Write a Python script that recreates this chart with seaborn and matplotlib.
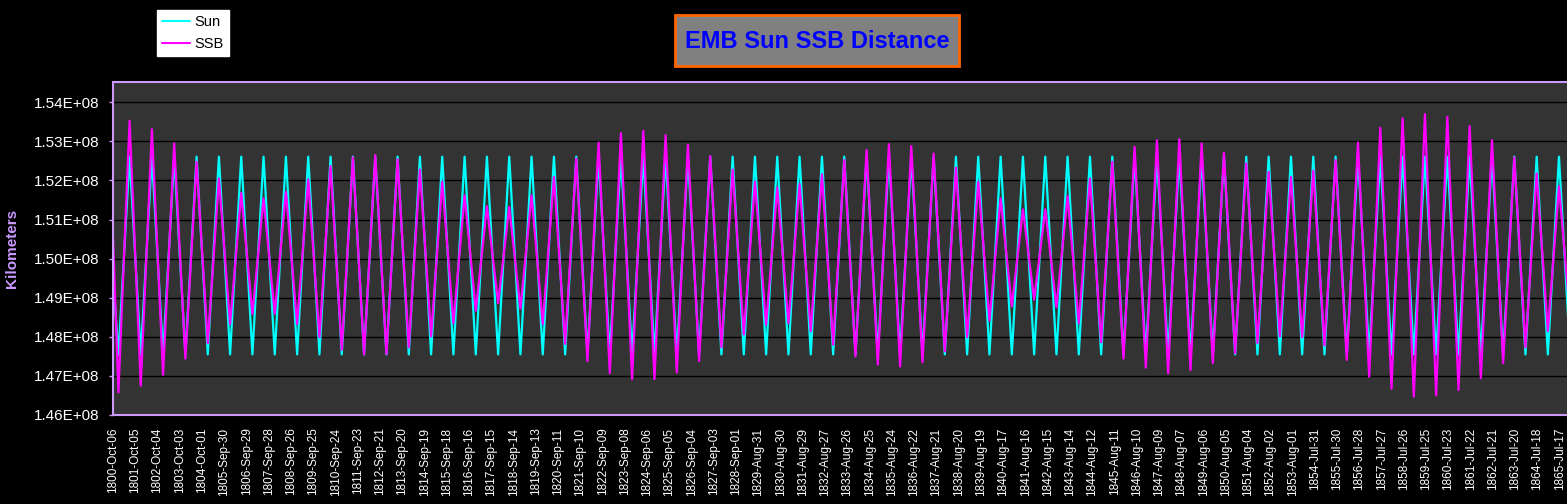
import matplotlib
matplotlib.use("Agg")
import matplotlib.pyplot as plt
from matplotlib.patches import Rectangle
from matplotlib.lines import Line2D
from matplotlib.ticker import FixedLocator, FuncFormatter
import seaborn as sns
import pandas as pd
import numpy as np

# ---------------- data ----------------
tick_labels = [
    "1800-Oct-06", "1801-Oct-05", "1802-Oct-04", "1803-Oct-03", "1804-Oct-01",
    "1805-Sep-30", "1806-Sep-29", "1807-Sep-28", "1808-Sep-26", "1809-Sep-25",
    "1810-Sep-24", "1811-Sep-23", "1812-Sep-21", "1813-Sep-20", "1814-Sep-19",
    "1815-Sep-18", "1816-Sep-16", "1817-Sep-15", "1818-Sep-14", "1819-Sep-13",
    "1820-Sep-11", "1821-Sep-10", "1822-Sep-09", "1823-Sep-08", "1824-Sep-06",
    "1825-Sep-05", "1826-Sep-04", "1827-Sep-03", "1828-Sep-01", "1829-Aug-31",
    "1830-Aug-30", "1831-Aug-29", "1832-Aug-27", "1833-Aug-26", "1834-Aug-25",
    "1835-Aug-24", "1836-Aug-22", "1837-Aug-21", "1838-Aug-20", "1839-Aug-19",
    "1840-Aug-17", "1841-Aug-16", "1842-Aug-15", "1843-Aug-14", "1844-Aug-12",
    "1845-Aug-11", "1846-Aug-10", "1847-Aug-09", "1848-Aug-07", "1849-Aug-06",
    "1850-Aug-05", "1851-Aug-04", "1852-Aug-02", "1853-Aug-01", "1854-Jul-31",
    "1855-Jul-30", "1856-Jul-28", "1857-Jul-27", "1858-Jul-26", "1859-Jul-25",
    "1860-Jul-23", "1861-Jul-22", "1862-Jul-21", "1863-Jul-20", "1864-Jul-18",
    "1865-Jul-17",
]

start_date = "1800-10-06"
sun_start = 1.4955   # x 1e8 km
ssb_start = 1.5056

trough_years = list(range(1801, 1867))   # minima near early January
peak_years = list(range(1801, 1866))     # maxima near early July
trough_day = "01-03"
peak_day = "07-04"

sun_troughs = [
    1.4755, 1.4755, 1.4755, 1.4755, 1.4755, 1.4755, 1.4755, 1.4755, 1.4755, 1.4755,
    1.4755, 1.4755, 1.4755, 1.4755, 1.4755, 1.4755, 1.4755, 1.4755, 1.4755, 1.4755,
    1.4755, 1.4755, 1.4755, 1.4755, 1.4755, 1.4755, 1.4755, 1.4755, 1.4755, 1.4755,
    1.4755, 1.4755, 1.4755, 1.4755, 1.4755, 1.4755, 1.4755, 1.4755, 1.4755, 1.4755,
    1.4755, 1.4755, 1.4755, 1.4755, 1.4755, 1.4755, 1.4755, 1.4755, 1.4755, 1.4755,
    1.4755, 1.4755, 1.4755, 1.4755, 1.4755, 1.4755, 1.4755, 1.4755, 1.4755, 1.4755,
    1.4755, 1.4755, 1.4755, 1.4755, 1.4755, 1.4755,
]
sun_peaks = [
    1.5261, 1.5261, 1.5261, 1.5261, 1.5261, 1.5261, 1.5261, 1.5261, 1.5261, 1.5261,
    1.5261, 1.5261, 1.5261, 1.5261, 1.5261, 1.5261, 1.5261, 1.5261, 1.5261, 1.5261,
    1.5261, 1.5261, 1.5261, 1.5261, 1.5261, 1.5261, 1.5261, 1.5261, 1.5261, 1.5261,
    1.5261, 1.5261, 1.5261, 1.5261, 1.5261, 1.5261, 1.5261, 1.5261, 1.5261, 1.5261,
    1.5261, 1.5261, 1.5261, 1.5261, 1.5261, 1.5261, 1.5261, 1.5261, 1.5261, 1.5261,
    1.5261, 1.5261, 1.5261, 1.5261, 1.5261, 1.5261, 1.5261, 1.5261, 1.5261, 1.5261,
    1.5261, 1.5261, 1.5261, 1.5261, 1.5261,
]
ssb_troughs = [
    1.4658, 1.4675, 1.4703, 1.4744, 1.4784, 1.4833, 1.4859, 1.4859, 1.4833, 1.4799,
    1.4767, 1.4755, 1.4756, 1.4773, 1.4801, 1.4835, 1.4867, 1.4886, 1.4872, 1.4833,
    1.4782, 1.4738, 1.4707, 1.4692, 1.4692, 1.4709, 1.4738, 1.4773, 1.4806, 1.4831,
    1.4835, 1.4815, 1.4780, 1.4750, 1.4729, 1.4724, 1.4735, 1.4763, 1.4799, 1.4842,
    1.4878, 1.4895, 1.4876, 1.4835, 1.4786, 1.4744, 1.4721, 1.4707, 1.4715, 1.4733,
    1.4758, 1.4784, 1.4801, 1.4799, 1.4778, 1.4741, 1.4698, 1.4667, 1.4647, 1.4650,
    1.4664, 1.4694, 1.4733, 1.4773, 1.4815, 1.4850,
]
ssb_peaks = [
    1.5353, 1.5331, 1.5295, 1.5248, 1.5205, 1.5168, 1.5154, 1.5171, 1.5203, 1.5237,
    1.5259, 1.5265, 1.5254, 1.5228, 1.5197, 1.5162, 1.5134, 1.5132, 1.5162, 1.5209,
    1.5256, 1.5297, 1.5321, 1.5327, 1.5316, 1.5292, 1.5262, 1.5228, 1.5197, 1.5182,
    1.5191, 1.5216, 1.5252, 1.5278, 1.5293, 1.5288, 1.5269, 1.5233, 1.5197, 1.5154,
    1.5126, 1.5126, 1.5160, 1.5205, 1.5248, 1.5286, 1.5303, 1.5306, 1.5295, 1.5271,
    1.5244, 1.5222, 1.5209, 1.5225, 1.5252, 1.5297, 1.5335, 1.5359, 1.5370, 1.5363,
    1.5339, 1.5303, 1.5259, 1.5218, 1.5185,
]
value_scale = 1e8

ytick_values = [1.46e8, 1.47e8, 1.48e8, 1.49e8, 1.50e8, 1.51e8, 1.52e8, 1.53e8, 1.54e8]

series_names = ["Sun", "SSB"]
series_colors = {"Sun": "#00FFFF", "SSB": "#FF00FF"}


def build(name, start, troughs, peaks):
    dates = [pd.Timestamp(start_date)]
    vals = [start]
    for i, y in enumerate(trough_years):
        dates.append(pd.Timestamp(f"{y}-{trough_day}"))
        vals.append(troughs[i])
        if i < len(peak_years):
            dates.append(pd.Timestamp(f"{peak_years[i]}-{peak_day}"))
            vals.append(peaks[i])
    return pd.DataFrame({"date": dates,
                         "km": np.array(vals) * value_scale,
                         "series": name})


df = pd.concat([build("Sun", sun_start, sun_troughs, sun_peaks),
                build("SSB", ssb_start, ssb_troughs, ssb_peaks)],
               ignore_index=True)

# ---------------- style ----------------
sns.set_style("dark")
plt.rcParams["font.family"] = ["Liberation Sans", "DejaVu Sans"]

W, H = 1567, 504
fig = plt.figure(figsize=(W / 100, H / 100), dpi=100, facecolor="black")
ax = fig.add_axes([113 / W, 1 - 415 / H, 1459 / W, 333 / H])
ax.set_facecolor("#333333")

sns.lineplot(data=df, x="date", y="km", hue="series", hue_order=series_names,
             palette=series_colors, sort=False, estimator=None, lw=1.6,
             legend=False, ax=ax)

tick_dates = pd.to_datetime(tick_labels, format="%Y-%b-%d")
x0 = pd.Timestamp(start_date)
ax.set_xlim(x0, x0 + pd.Timedelta(days=23860))
ax.set_xticks(tick_dates)
ax.set_xticklabels(tick_labels)

ax.set_ylim(1.46e8, 1.5452e8)
ax.yaxis.set_major_locator(FixedLocator(ytick_values))
ax.yaxis.set_major_formatter(FuncFormatter(lambda v, p: f"{v:.2E}"))

ax.set_xlabel("")
ax.set_ylabel("")
ax.set_axisbelow(True)
ax.yaxis.grid(True, color="black", lw=1)
ax.xaxis.grid(False)

for s in ax.spines.values():
    s.set_visible(True)
    s.set_color("#CC99FF")
    s.set_linewidth(1.5)

ax.tick_params(axis="y", which="major", left=True, length=3, width=1,
               color="#CC99FF", labelcolor="white", labelsize=11, pad=7)
ax.tick_params(axis="x", which="major", bottom=True, length=0,
               labelcolor="white", labelsize=8.5, labelrotation=90, pad=9)

# y label
fig.text(12 / W, 1 - 248 / H, "Kilometers", rotation=90, ha="center", va="center",
         color="#CC99FF", fontsize=11, fontweight="bold")

# legend
handles = [Line2D([], [], color=series_colors[n], lw=1.5) for n in series_names]
leg = fig.legend(handles, series_names, loc="upper left",
                 bbox_to_anchor=(157 / W, 1 - 10 / H), frameon=True,
                 facecolor="white", edgecolor="white", fancybox=False,
                 framealpha=1, fontsize=10.5, handlelength=1.9,
                 handletextpad=0.3, borderpad=0.35, labelspacing=0.55,
                 borderaxespad=0)
for t in leg.get_texts():
    t.set_color("black")

# title box
fig.patches.append(Rectangle((675 / W, 1 - 66 / H), 284 / W, 51 / H,
                             transform=fig.transFigure, facecolor="#808080",
                             edgecolor="#FF6600", lw=2, zorder=1))
fig.text(817 / W, 1 - 41 / H, "EMB Sun SSB Distance", ha="center", va="center",
         color="#0000FF", fontsize=17, fontweight="bold", zorder=2)

fig.savefig("out.png", dpi=100, facecolor="black")
